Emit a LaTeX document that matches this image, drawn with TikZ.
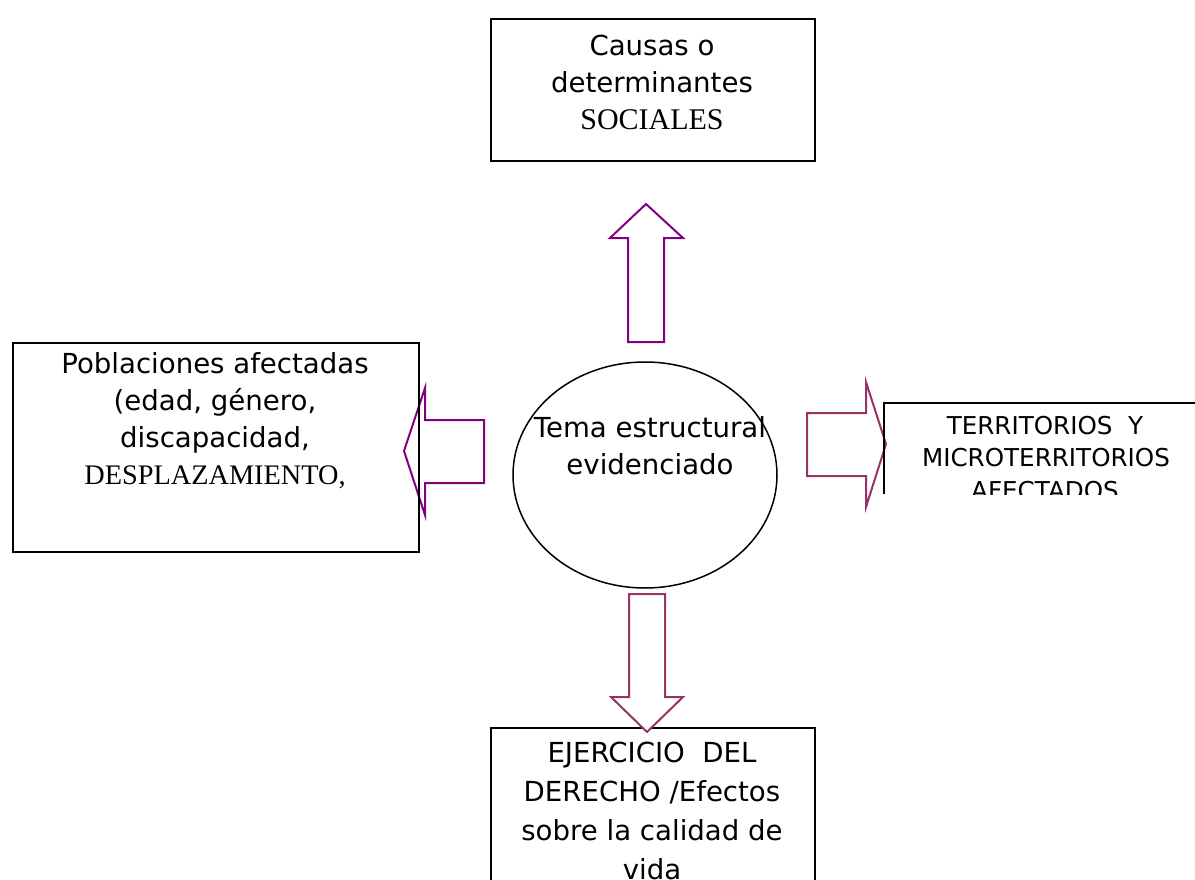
\documentclass[tikz,border=0pt]{standalone}
\usepackage{fontspec}
\setmainfont{DejaVu Sans}
\newfontfamily\tms{Liberation Serif}
\usetikzlibrary{shapes.geometric}
\definecolor{arrpurple}{HTML}{800080}
\definecolor{arrplum}{HTML}{993366}
\begin{document}
\begin{tikzpicture}[x=1pt,y=-1pt,
  boxline/.style={draw=black, line width=2pt},
  blockarrow/.style={draw, line width=2pt, fill=white, line join=miter},
  txt/.style={align=center, inner sep=0pt, font=\fontsize{27.6}{37}\selectfont},
  smalltxt/.style={anchor=base, inner sep=0pt, font=\fontsize{24.6}{32}\selectfont}]
\useasboundingbox (0,0) rectangle (1195,880);
\clip (0,0) rectangle (1195,880);

% block arrows
\draw[blockarrow, draw=arrpurple] (628,342) -- (628,238) -- (610,238) -- (646,204) -- (683,238) -- (664,238) -- (664,342) -- cycle;
\draw[blockarrow, draw=arrpurple] (484,420) -- (425,420) -- (425,388) -- (404,451) -- (425,515) -- (425,483) -- (484,483) -- cycle;
\draw[blockarrow, draw=arrplum] (807,413) -- (866,413) -- (866,382) -- (886,444) -- (866,507) -- (866,476) -- (807,476) -- cycle;

% top box
\node[boxline, minimum width=324pt, minimum height=142pt, anchor=north west] (causas) at (490,18) {};
\node[txt] (causastxt) at (652,82) {Causas o\\determinantes\\{\tms\fontsize{30}{37}\selectfont SOCIALES}};

% left box
\node[boxline, minimum width=406pt, minimum height=209pt, anchor=north west] (poblaciones) at (12,342) {};
\node[txt] (poblacionestxt) at (215,421) {Poblaciones afectadas\\(edad, género,\\discapacidad,\\{\tms\fontsize{28.3}{37}\selectfont DESPLAZAMIENTO,}};

% center ellipse
\node[draw, line width=1.5pt, ellipse, minimum width=264pt, minimum height=226pt, inner sep=0pt] (tema) at (645,475) {};
\node[txt] (tematxt) at (650,446) {Tema estructural\\evidenciado};

% right box (open, clipped)
\coordinate (rtop) at (1200,403);
\coordinate (rcorner) at (884,403);
\coordinate (rbottom) at (884,494);
\draw[line width=2pt] (rtop) -- (rcorner) -- (rbottom);
\begin{scope}
  \clip (884,403) rectangle (1195,494);
  \node[smalltxt] (territorios1) at (1045,434) {TERRITORIOS\ \ Y};
  \node[smalltxt] (territorios2) at (1046,466) {MICROTERRITORIOS};
  \node[smalltxt] (territorios3) at (1045,499) {AFECTADOS};
\end{scope}

% bottom box
\node[boxline, minimum width=324pt, minimum height=200pt, anchor=north west] (ejercicio) at (490,727) {};
\node[txt, font=\fontsize{27.6}{39}\selectfont] (ejerciciotxt) at (652,811) {EJERCICIO\ \ DEL\\DERECHO /Efectos\\sobre la calidad de\\vida};

% down arrow
\draw[blockarrow, draw=arrplum] (629,594) -- (665,594) -- (665,697) -- (683,697) -- (647,732) -- (611,697) -- (629,697) -- cycle;
\end{tikzpicture}
\end{document}
